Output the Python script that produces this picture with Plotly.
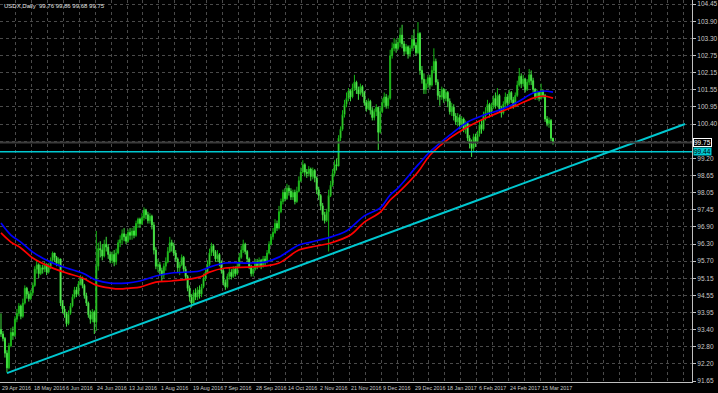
import plotly.graph_objects as go

# ---------------- data ----------------
closes = [
93.25,93.10,92.60,92.10,92.85,93.30,93.20,93.75,93.95,94.20,
93.85,94.30,94.80,94.60,94.45,94.65,94.90,95.45,95.60,95.30,
95.50,95.45,95.60,95.35,95.55,95.75,96.00,95.85,95.65,95.80,
94.30,94.10,93.95,93.60,93.95,94.20,94.50,94.75,94.60,94.95,
95.15,94.90,94.55,94.30,93.90,93.75,94.00,93.65,95.55,96.15,
96.10,95.90,96.30,96.20,95.95,95.75,95.95,95.70,96.00,96.35,
96.45,96.65,96.55,96.40,96.70,96.60,96.75,96.60,97.00,97.15,
97.00,97.20,97.45,97.30,97.10,97.25,96.95,96.10,95.55,95.60,
95.40,95.25,95.55,95.70,96.05,96.35,96.25,96.00,95.80,95.50,
95.60,95.85,95.45,95.20,94.80,94.50,94.30,94.65,94.50,94.75,
94.60,94.85,95.15,95.35,95.60,96.00,96.25,96.05,95.80,95.95,
95.70,95.40,95.00,94.85,95.20,95.35,95.20,95.45,95.30,95.55,
95.85,96.10,96.30,96.05,95.80,95.55,95.30,95.45,95.70,95.55,
95.75,95.55,95.80,95.70,96.00,96.30,96.55,96.70,97.00,96.85,
97.40,97.75,98.05,97.85,98.20,98.10,97.90,98.05,97.75,98.10,
98.45,98.75,99.00,98.75,98.70,98.85,98.60,98.80,98.55,98.15,
97.95,97.60,97.30,97.10,97.40,97.95,98.30,98.70,99.00,98.95,
99.90,100.20,100.70,101.05,101.25,101.50,101.30,101.60,101.80,101.55,
101.40,101.65,101.45,101.10,100.90,101.15,100.85,100.60,100.80,100.95,
100.10,100.80,101.10,101.30,101.00,101.25,102.70,102.95,103.10,102.95,
103.15,103.40,103.10,102.85,103.00,102.75,102.95,103.25,103.05,102.80,
103.45,102.20,101.90,101.55,101.75,101.95,101.70,102.20,102.50,101.80,
101.35,101.30,101.55,101.25,101.45,101.15,100.80,100.95,100.65,100.45,
100.60,100.35,100.55,100.20,100.40,99.90,99.70,99.55,99.95,99.75,
100.05,100.35,100.20,100.65,100.80,101.05,100.75,101.00,101.25,101.00,
101.35,100.90,100.75,101.05,101.30,101.10,101.45,101.20,101.00,101.35,
101.70,102.00,101.75,101.90,101.55,101.80,102.05,101.85,101.55,101.30,
101.45,101.25,101.50,101.35,100.55,100.40,100.50,99.90,99.75,
]
highs = [
93.95,93.35,93.15,92.70,92.95,93.45,93.50,93.85,94.10,94.30,
94.25,94.45,94.90,94.85,94.70,94.75,95.00,95.55,95.75,95.65,
95.60,95.60,95.70,95.65,95.65,95.85,96.05,96.00,95.90,95.85,
95.80,94.40,94.20,94.00,94.05,94.30,94.60,94.85,94.85,95.05,
95.25,95.20,94.95,94.65,94.35,94.05,94.10,94.05,96.75,96.35,
96.40,96.30,96.45,96.55,96.30,96.05,96.05,96.10,96.15,96.45,
96.60,96.80,96.85,96.65,96.80,96.85,96.85,96.90,97.10,97.20,
97.20,97.35,97.55,97.50,97.40,97.35,97.30,97.05,96.20,95.80,
95.70,95.50,95.65,95.85,96.20,96.55,96.45,96.35,96.10,95.85,
95.70,95.95,95.90,95.55,95.25,94.90,94.60,94.75,94.80,94.85,
94.90,94.95,95.30,95.45,95.75,96.15,96.35,96.30,96.10,96.10,
96.00,95.75,95.45,95.10,95.30,95.50,95.45,95.55,95.55,95.65,
96.00,96.25,96.45,96.35,96.10,95.85,95.60,95.55,95.80,95.80,
95.85,95.80,95.90,95.90,96.10,96.40,96.65,96.85,97.15,97.10,
97.60,97.85,98.15,98.20,98.35,98.30,98.20,98.15,98.15,98.25,
98.60,98.90,99.15,99.05,98.85,98.95,98.90,98.90,98.85,98.60,
98.25,98.00,97.70,97.40,97.50,98.15,98.45,98.85,99.15,99.20,
100.00,100.30,100.85,101.20,101.45,101.60,101.55,101.75,102.05,101.85,
101.65,101.75,101.70,101.50,101.20,101.25,101.20,100.95,100.90,101.05,
100.95,100.95,101.25,101.45,101.40,101.35,102.90,103.15,103.30,103.25,
103.30,103.65,103.75,103.20,103.10,103.05,103.05,103.40,103.60,103.15,
103.84,103.50,102.35,102.10,101.90,102.05,102.05,102.35,102.95,102.60,
101.90,101.50,101.65,101.60,101.55,101.50,101.25,101.10,101.05,100.75,
100.75,100.70,100.65,100.60,100.50,100.45,100.00,99.85,100.05,100.05,
100.15,100.50,100.55,100.80,100.95,101.20,101.10,101.10,101.35,101.45,
101.60,101.40,101.00,101.15,101.45,101.40,101.55,101.50,101.30,101.45,
101.85,102.28,102.10,102.05,101.95,101.90,102.25,102.20,101.95,101.60,
101.55,101.50,101.75,101.55,101.40,100.65,100.60,100.55,99.86,
]
lows = [
93.15,93.00,92.45,91.95,92.05,92.80,93.05,93.15,93.65,93.85,
93.75,93.80,94.25,94.45,94.35,94.40,94.55,94.85,95.30,95.15,
95.25,95.30,95.35,95.25,95.30,95.45,95.65,95.70,95.55,95.55,
94.20,93.95,93.80,93.50,93.55,93.90,94.15,94.45,94.50,94.55,
94.90,94.80,94.45,94.20,93.80,93.60,93.65,93.25,93.35,95.40,
95.85,95.75,95.85,96.05,95.80,95.65,95.65,95.55,95.60,95.95,
96.20,96.30,96.40,96.30,96.35,96.45,96.45,96.50,96.55,96.85,
96.85,96.95,97.10,97.15,97.00,97.00,96.80,95.95,95.45,95.35,
95.25,95.05,95.15,95.40,95.65,96.00,96.05,95.90,95.70,95.35,
95.25,95.55,95.35,95.10,94.70,94.35,94.15,94.25,94.40,94.40,
94.45,94.50,94.80,95.05,95.30,95.55,95.90,95.90,95.70,95.70,
95.55,95.30,94.90,94.75,94.80,95.10,95.10,95.15,95.20,95.25,
95.50,95.80,96.00,95.95,95.70,95.45,95.20,95.20,95.40,95.45,
95.50,95.45,95.50,95.55,95.65,95.95,96.25,96.45,96.65,96.75,
96.80,97.35,97.65,97.75,97.80,97.95,97.80,97.80,97.65,97.70,
98.05,98.40,98.70,98.60,98.55,98.60,98.45,98.50,98.40,98.00,
97.80,97.45,97.10,97.00,97.05,96.05,97.90,98.25,98.60,98.80,
98.95,99.80,100.15,100.60,100.95,101.15,101.15,101.25,101.50,101.40,
101.20,101.35,101.30,101.00,100.80,100.85,100.70,100.50,100.50,100.65,
99.50,100.05,100.75,100.95,100.90,100.90,101.20,102.60,102.85,102.80,
102.90,103.00,102.95,102.70,102.75,102.60,102.65,102.85,102.95,102.70,
102.75,102.05,101.75,101.40,101.40,101.60,101.55,101.65,102.10,101.70,
101.20,101.00,101.20,101.10,101.15,100.95,100.70,100.65,100.50,100.35,
100.30,100.20,100.25,100.10,100.05,99.80,99.55,99.26,99.45,99.60,
99.70,99.95,100.05,100.15,100.50,100.70,100.60,100.65,100.90,100.90,
100.95,100.75,100.60,100.70,100.95,101.00,101.05,101.10,100.90,100.95,
101.30,101.65,101.60,101.65,101.45,101.50,101.70,101.70,101.45,101.20,
101.20,101.15,101.20,101.25,100.45,100.30,100.25,99.80,99.68,
]
first_open = 93.40

# moving averages read at sampled bars
ma_blue_idx = [0,5,10,16,25,33,41,48,55,63,70,78,86,100,105,113,125,133,140,150,156,
               166,173,176,183,191,196,200,210,216,226,235,243,251,260,268,273,278]
ma_blue = [97.02,96.61,96.37,96.03,95.69,95.49,95.32,95.08,94.98,94.98,95.05,95.22,95.32,
           95.39,95.52,95.66,95.66,95.69,95.86,96.27,96.37,96.54,96.71,96.85,97.26,97.53,
           97.97,98.21,98.99,99.43,100.00,100.45,100.68,100.85,101.12,101.43,101.50,101.46]
ma_red_idx = [0,5,10,16,25,33,41,48,55,60,65,70,78,86,100,105,113,125,133,140,150,156,
              166,176,183,191,196,200,210,216,226,235,243,251,260,268,273,278]
ma_red = [96.68,96.37,96.17,95.83,95.52,95.32,95.15,94.91,94.81,94.78,94.81,94.84,95.01,
          95.05,95.18,95.35,95.49,95.52,95.56,95.66,96.10,96.20,96.34,96.61,97.05,97.39,
          97.80,98.04,98.75,99.32,99.90,100.28,100.55,100.78,101.02,101.26,101.33,101.26]

trend_x = [3, 344.5]
trend_y = [91.92, 100.38]
hline_price = 99.44
bid_price = 99.75

date_labels = ["29 Apr 2016","18 May 2016","6 Jun 2016","24 Jun 2016","13 Jul 2016",
               "1 Aug 2016","19 Aug 2016","7 Sep 2016","28 Sep 2016","14 Oct 2016",
               "2 Nov 2016","21 Nov 2016","9 Dec 2016","29 Dec 2016","18 Jan 2017",
               "6 Feb 2017","24 Feb 2017","15 Mar 2017"]
price_labels = ["91.65","92.20","92.80","93.40","93.95","94.55","95.15","95.70","96.30",
                "96.90","97.45","98.05","98.65","99.20","","100.40","100.95","101.55",
                "102.15","102.75","103.30","103.90","104.45"]
title_text = "USDX,Daily  99.76 99.86 99.68 99.75"

# ---------------- figure ----------------
FONT = "Liberation Sans"
n = len(closes)
xs = list(range(n))
opens = [first_open] + closes[:-1]
hi = [max(h, o, c) for h, o, c in zip(highs, opens, closes)]
lo = [min(l, o, c) for l, o, c in zip(lows, opens, closes)]

fig = go.Figure()
fig.add_trace(go.Candlestick(
    x=xs, open=opens, high=hi, low=lo, close=closes,
    increasing=dict(line=dict(color="#14b414", width=1), fillcolor="#a8ff88"),
    decreasing=dict(line=dict(color="#40e040", width=1), fillcolor="#c0ffa8"),
    whiskerwidth=0, hoverinfo="skip", showlegend=False))
fig.add_trace(go.Scatter(x=ma_blue_idx, y=ma_blue, mode="lines",
                         line=dict(color="#0000ff", width=1.7, shape="spline"),
                         hoverinfo="skip", showlegend=False))
fig.add_trace(go.Scatter(x=ma_red_idx, y=ma_red, mode="lines",
                         line=dict(color="#ff0000", width=1.7, shape="spline"),
                         hoverinfo="skip", showlegend=False))
fig.add_trace(go.Scatter(x=trend_x, y=trend_y, mode="lines",
                         line=dict(color="#00c8d0", width=2),
                         hoverinfo="skip", showlegend=False))

y_lo, y_hi = 91.62, 104.59
step = (104.45 - 91.65) / 22
tickvals_y = [91.65 + k * step for k in range(len(price_labels))]
x_lo, x_hi = -0.5, 348

grid_x = [x_lo + 8 * k for k in range(44)]

fig.update_layout(
    width=718, height=393,
    margin=dict(l=0, r=21, t=0, b=11),
    paper_bgcolor="#000000", plot_bgcolor="#000000",
    font=dict(family=FONT, size=7, color="#c8c8c8"),
    xaxis=dict(range=[x_lo, x_hi], rangeslider=dict(visible=False),
               tickvals=grid_x, showticklabels=False,
               showgrid=True, gridcolor="#4a4a4a", griddash="dot", gridwidth=1,
               zeroline=False, showline=True, linecolor="#c0c0c0", linewidth=1,
               mirror=False, ticks="", fixedrange=True),
    yaxis=dict(range=[y_lo, y_hi], side="right", tickvals=tickvals_y, ticktext=price_labels,
               showgrid=True, gridcolor="#4a4a4a", griddash="dot", gridwidth=1,
               zeroline=False, showline=True, linecolor="#c0c0c0", linewidth=1,
               ticks="outside", ticklen=3, tickcolor="#c0c0c0",
               tickfont=dict(family=FONT, size=6.5, color="#c8c8c8"), fixedrange=True),
)

# horizontal lines
fig.add_shape(type="line", xref="paper", x0=0, x1=1, y0=bid_price, y1=bid_price,
              line=dict(color="#3c3c3c", width=2))
fig.add_shape(type="line", xref="paper", x0=0, x1=1, y0=hline_price, y1=hline_price,
              line=dict(color="#00c8d0", width=1.5))

# date labels (left-aligned at every second grid line)
for k, lab in enumerate(date_labels):
    fig.add_annotation(x=x_lo + 16 * k, y=0, xref="x", yref="paper", yanchor="top",
                       xanchor="left", text=lab, showarrow=False, xshift=0, yshift=-1,
                       font=dict(family=FONT, size=5.4, color="#c8c8c8"))

# price boxes on right
fig.add_annotation(x=1, xref="paper", y=bid_price, yref="y", xanchor="left",
                   text="99.75", showarrow=False, bgcolor="#000000", bordercolor="#ffffff",
                   borderwidth=1, borderpad=0, xshift=1,
                   font=dict(family=FONT, size=6.5, color="#ffffff"))
fig.add_annotation(x=1, xref="paper", y=hline_price, yref="y", xanchor="left",
                   text="99.44", showarrow=False, bgcolor="#00c8d0", borderpad=0, xshift=1,
                   font=dict(family=FONT, size=6.5, color="#000000"))

# title
fig.add_annotation(x=0, y=1, xref="paper", yref="paper", xanchor="left", yanchor="top",
                   text=title_text, showarrow=False, xshift=2, yshift=-1,
                   font=dict(family=FONT, size=6, color="#e0e0e0"))

fig.write_html("out.html")
